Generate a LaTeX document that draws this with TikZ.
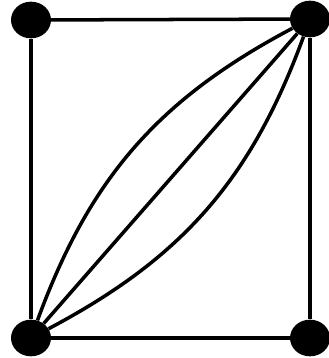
\documentclass[tikz,border=0pt]{standalone}
\usetikzlibrary{shapes.geometric}
\tikzset{
  vertex/.style={ellipse, fill=black, inner sep=0pt,
    minimum width=1.2cm, minimum height=1.1cm},
  edge/.style={line width=3pt, color=black}
}
\begin{document}
\begin{tikzpicture}[x=0.03cm, y=-0.03cm]
  \useasboundingbox (0,0) rectangle (328,358);
  \node[vertex] (tl) at (31,20) {};
  \node[vertex] (tr) at (310,19) {};
  \node[vertex] (bl) at (31,338) {};
  \node[vertex] (br) at (310,338) {};

  \draw[edge] (tl) -- (tr);
  \draw[edge] (tr) -- (br);
  \draw[edge] (br) -- (bl);
  \draw[edge] (bl) -- (tl);
  \draw[edge] (bl) -- (tr);
  \draw[edge] (bl) to[bend left=21] (tr);
  \draw[edge] (bl) to[bend right=21] (tr);
\end{tikzpicture}
\end{document}
